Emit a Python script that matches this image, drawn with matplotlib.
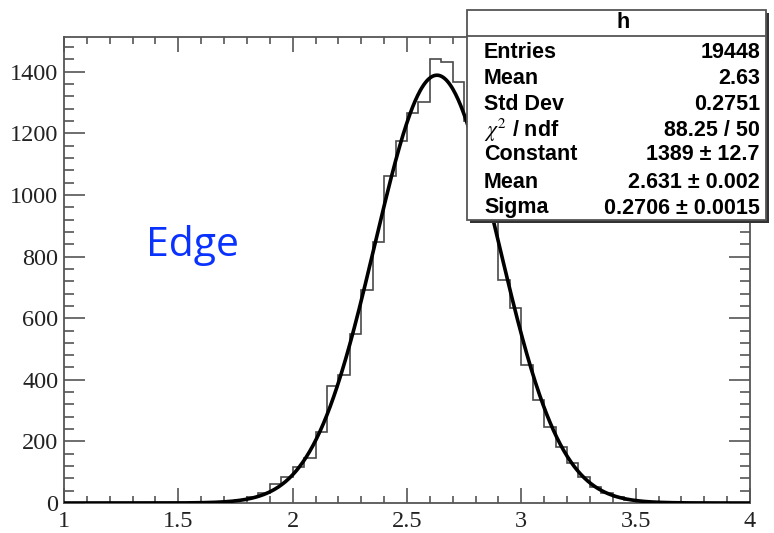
import numpy as np
import matplotlib
matplotlib.use('Agg')
import matplotlib.pyplot as plt
from matplotlib.patches import Rectangle
from matplotlib.lines import Line2D

plt.rcParams['mathtext.fontset'] = 'stix'

# ---------------- data ----------------
x_min, x_max, bin_width = 1.0, 4.0, 0.05
counts = [0, 0, 0, 0, 0, 0, 0, 0, 0, 0,          # 1.00 - 1.50
          0, 0, 0, 2, 5, 9, 20, 33, 62, 84,      # 1.50 - 2.00
          118, 146, 232, 380, 416, 549, 691, 848, 1062, 1176,   # 2.00 - 2.50
          1267, 1303, 1441, 1433, 1368, 1240, 1100, 940, 724, 632,  # 2.50 - 3.00
          448, 334, 248, 183, 129, 86, 51, 32, 19, 11,   # 3.00 - 3.50
          6, 3, 1, 0, 0, 0, 0, 0, 0, 0]           # 3.50 - 4.00

fit_constant, fit_mean, fit_sigma = 1389.0, 2.631, 0.2706

x_ticks = [1, 1.5, 2, 2.5, 3, 3.5, 4]
x_tick_labels = ["1", "1.5", "2", "2.5", "3", "3.5", "4"]
y_ticks = [0, 200, 400, 600, 800, 1000, 1200, 1400]
y_tick_labels = [str(v) for v in y_ticks]

stats_title = "h"
stats_labels = ["Entries", "Mean", "Std Dev", r"$\chi^{2}$ / ndf", "Constant", "Mean", "Sigma"]
stats_values = ["19448", "2.63", "0.2751", "88.25 / 50", "1389 \u00b1 12.7",
                "2.631 \u00b1 0.002", "0.2706 \u00b1 0.0015"]
annotation = "Edge"

# ---------------- figure ----------------
W, H = 774, 533
fig = plt.figure(figsize=(W / 100, H / 100), dpi=100)
ax = fig.add_axes([64 / W, 1 - 503 / H, (750 - 64) / W, (503 - 37) / H])

edges = np.linspace(x_min, x_max, len(counts) + 1)
ax.stairs(counts, edges, color='#4a4a4a', lw=1.2, zorder=2)

xf = np.linspace(x_min, x_max, 800)
yf = fit_constant * np.exp(-0.5 * ((xf - fit_mean) / fit_sigma) ** 2)
ax.plot(xf, yf, color='black', lw=2.6, zorder=3, solid_capstyle='butt')

ax.set_xlim(x_min, x_max)
ax.set_ylim(0, 1513)

ax.set_xticks(x_ticks)
ax.set_xticklabels(x_tick_labels, fontfamily='Liberation Serif', fontsize=17.5, color='#222222')
ax.set_xticks(np.arange(1.0, 4.0001, 0.1), minor=True)
ax.set_yticks(y_ticks)
ax.set_yticklabels(y_tick_labels, fontfamily='Liberation Serif', fontsize=17.5, color='#222222')
ax.set_yticks(np.arange(0, 1513, 40), minor=True)

tick_col = '#555555'
ax.tick_params(which='both', direction='in', top=True, right=True, color=tick_col, width=1.2)
ax.tick_params(axis='x', which='major', length=10.5, pad=6)
ax.tick_params(axis='x', which='minor', length=5)
ax.tick_params(axis='y', which='major', length=15, pad=4)
ax.tick_params(axis='y', which='minor', length=7.5)
for s in ax.spines.values():
    s.set_color(tick_col)
    s.set_linewidth(1.3)

fig.text(192 / W, 1 - 245 / H, annotation, fontsize=29.5, family='Open Sans',
         color='#0a32ff', ha='center', va='center')

# ---------------- stats box ----------------
def fx(px):
    return px / W

def fy(py):
    return 1 - py / H

bx0, bx1, by0, by1 = 467, 766, 10, 220
shadow = Rectangle((fx(bx0 + 3), fy(by1 + 3)), fx(bx1 - bx0), fy(by0) - fy(by1),
                   transform=fig.transFigure, facecolor='#333333', edgecolor='none', zorder=10)
box = Rectangle((fx(bx0), fy(by1)), fx(bx1 - bx0), fy(by0) - fy(by1),
                transform=fig.transFigure, facecolor='white', edgecolor='#555555', lw=1.3, zorder=11)
fig.add_artist(shadow)
fig.add_artist(box)
fig.add_artist(Line2D([fx(bx0), fx(bx1)], [fy(36), fy(36)], transform=fig.transFigure,
                      color='#555555', lw=1.3, zorder=12))
fig.text(fx(623), fy(23), stats_title, ha='center', va='center', fontsize=15.5,
         family='Liberation Sans', weight='bold', zorder=13)
row_y = [52, 78, 104, 130, 155, 182, 208]
for ry, lab, val in zip(row_y, stats_labels, stats_values):
    fig.text(fx(484), fy(ry), lab, ha='left', va='center', fontsize=15.5,
             family='Liberation Sans', weight='bold', zorder=13)
    fig.text(fx(760), fy(ry), val, ha='right', va='center', fontsize=15.5,
             family='Liberation Sans', weight='bold', zorder=13)

fig.savefig('out.png', dpi=100)
